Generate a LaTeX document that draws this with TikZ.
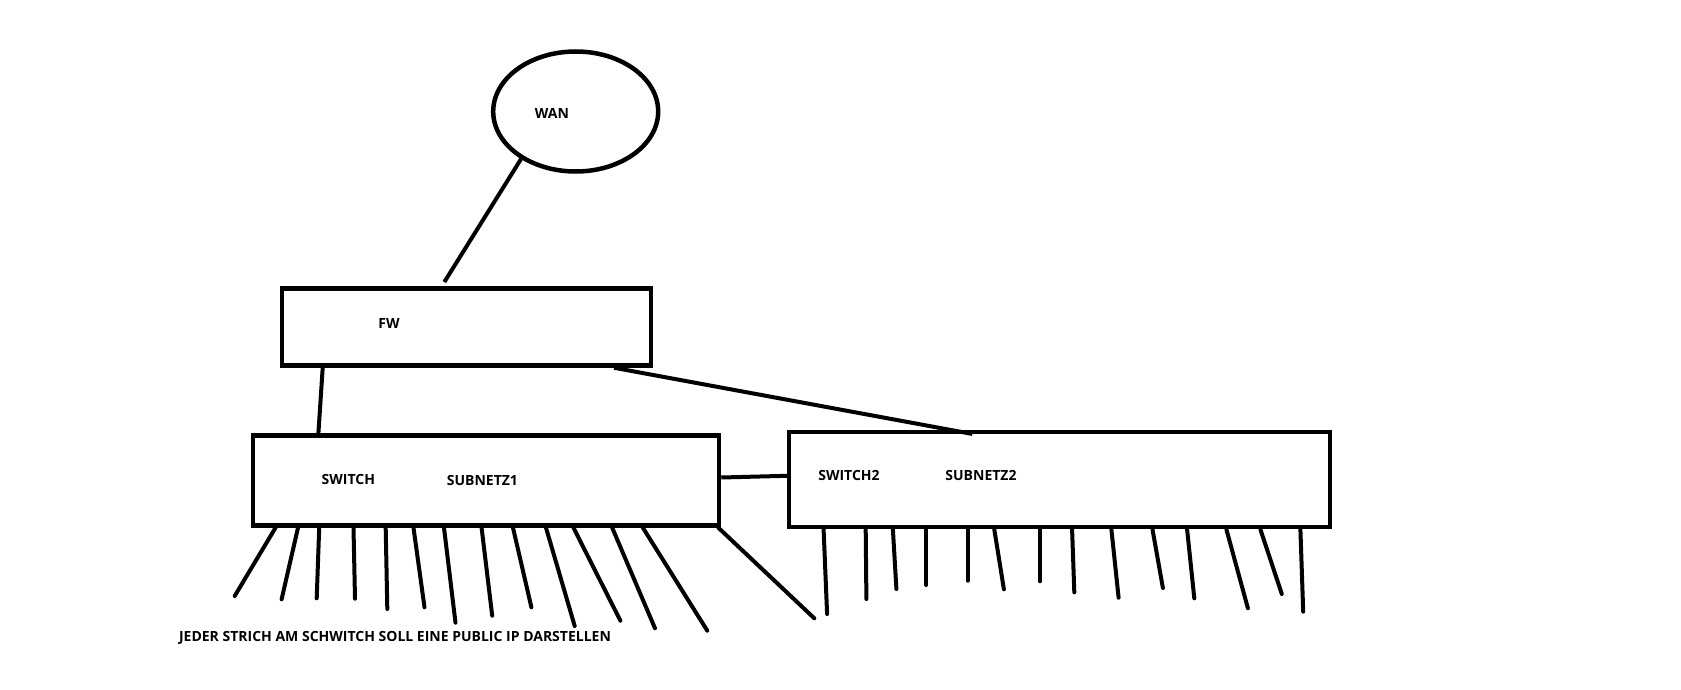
\documentclass[tikz,border=0pt]{standalone}
\usepackage{fontspec}
\setmainfont{Open Sans}
\usetikzlibrary{shapes.geometric}

\begin{document}
\begin{tikzpicture}[
    x=1pt, y=-1pt,
    every node/.style={font=\fontsize{14}{16}\selectfont\bfseries},
    box/.style={rectangle, draw, line width=4.5pt, inner sep=0pt},
    cloud/.style={ellipse, draw, line width=4.5pt, inner sep=0pt, minimum width=165pt, minimum height=120pt},
    link/.style={line width=4pt},
    port/.style={line width=4pt, line cap=round},
    txt/.style={inner sep=0pt}
]
\useasboundingbox[fill=white] (0,0) rectangle (1681,690);
% WAN and firewall
\node[cloud] (wan) at (575.7,111.5) {};
\node[txt] (wantxt) at (552,113.6) {WAN};
\node[box, minimum width=369pt, minimum height=77pt] (fw) at (466.5,327) {};
\node[txt] (fwtxt) at (389,324) {FW};
% Switches
\node[box, minimum width=466pt, minimum height=90pt] (sw1) at (486,480.5) {};
\node[txt] (sw1txt) at (348.4,479.2) {SWITCH};
\node[txt] (net1txt) at (482.4,480.3) {SUBNETZ1};
\node[box, minimum width=541pt, minimum height=95pt] (sw2) at (1059.7,479.7) {};
\node[txt] (sw2txt) at (849,475) {SWITCH2};
\node[txt] (net2txt) at (981,475) {SUBNETZ2};
% Note
\node[txt] (note) at (395,638) {JEDER STRICH AM SCHWITCH SOLL EINE PUBLIC IP DARSTELLEN};
% Links
\draw[link, shorten >=5pt] (wan.221) -- (441.7,0 |- fw.north);
\draw[link] (322.7,0 |- fw.south) -- (318.4,0 |- sw1.north);
\draw[link] (614,0 |- fw.south) -- ([yshift=-4pt]972.3,0 |- sw2.north);
\draw[link] ([yshift=3pt]sw1.east) -- ([xshift=4pt,yshift=4pt]sw2.west);
% Public IP ports
\foreach \a/\b/\c in {275.5/234.7/596, 298/281.6/599.3, 319.2/316.7/598.3, 353.5/355/598.7,
    385.7/387.3/609, 413.5/424.5/607.3, 444/455.5/622.7, 481.6/492.2/615.7, 513/531.4/607.3,
    546/574.7/626, 573.5/620.4/620.7, 612.2/655/628.3, 642.9/707.3/630.7, 718.4/814.3/618.3}
  \draw[port] (\a,0 |- sw1.south) -- (\b,\c);
\foreach \a/\b/\c in {823.6/827.1/614, 865.7/866.4/599, 892.9/896.4/589, 926.4/926.4/585,
    967.5/967.5/580.7, 994.3/1003.9/589.3, 1040/1040/581.3, 1072.1/1074.3/592.3, 1111.4/1118.6/597.7,
    1152.5/1162.9/588, 1187.1/1194.3/598.3, 1226.4/1247.9/608.3, 1260.4/1281.8/594, 1300.4/1303.2/611.7}
  \draw[port] (\a,0 |- sw2.south) -- (\b,\c);
\end{tikzpicture}
\end{document}
